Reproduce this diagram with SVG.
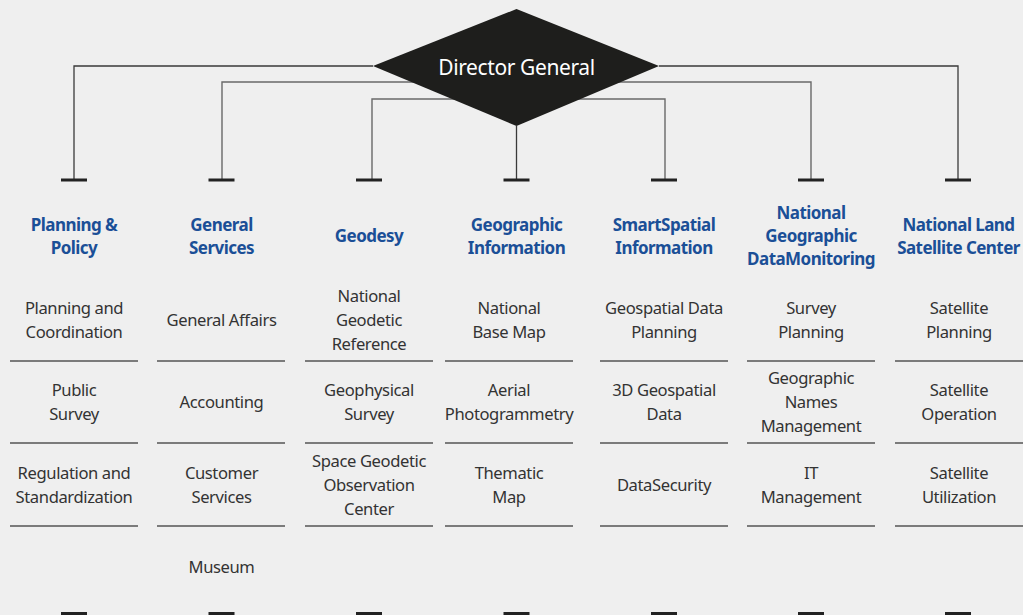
<svg xmlns="http://www.w3.org/2000/svg" width="1023" height="615" viewBox="0 0 1023 615">
<style>
.bg{fill:#efefef}
.hd{font-family:"Noto Sans","Liberation Sans",sans-serif;font-weight:bold;font-size:17px;fill:#1b4f97;text-anchor:middle;letter-spacing:-0.55px}
.tx{font-family:"Noto Sans","Liberation Sans",sans-serif;font-size:16.6px;fill:#333;text-anchor:middle;letter-spacing:-0.4px}
.dg{font-family:"Noto Sans","Liberation Sans",sans-serif;font-size:21px;fill:#fff;text-anchor:middle;letter-spacing:-0.4px}
.c1{fill:none;stroke:#3a3a3a;stroke-width:1.3}
.c2{fill:none;stroke:#6a6a6a;stroke-width:1.4}
.bar{fill:#222}
.sep{stroke:#555;stroke-width:1.5}
</style>
<rect class="bg" x="0" y="0" width="1023" height="615"/>
<g id="connectors">
<path class="c1" d="M373 66 H74 V180"/>
<path class="c1" d="M659 66 H958 V180"/>
<path class="c2" d="M420 82 H222 V180"/>
<path class="c2" d="M612 82 H811 V180"/>
<path class="c2" d="M460 99 H372 V180"/>
<path class="c2" d="M573 99 H665 V180"/>
<path class="c1" d="M516.5 126 V180"/>
<rect class="bar" x="61" y="178.5" width="26" height="3"/>
<rect class="bar" x="208.5" y="178.5" width="26" height="3"/>
<rect class="bar" x="356" y="178.5" width="26" height="3"/>
<rect class="bar" x="503.5" y="178.5" width="26" height="3"/>
<rect class="bar" x="651" y="178.5" width="26" height="3"/>
<rect class="bar" x="798" y="178.5" width="26" height="3"/>
<rect class="bar" x="945" y="178.5" width="26" height="3"/>
<rect class="bar" x="61" y="612" width="26" height="3"/>
<rect class="bar" x="208.5" y="612" width="26" height="3"/>
<rect class="bar" x="356" y="612" width="26" height="3"/>
<rect class="bar" x="503.5" y="612" width="26" height="3"/>
<rect class="bar" x="651" y="612" width="26" height="3"/>
<rect class="bar" x="798" y="612" width="26" height="3"/>
<rect class="bar" x="945" y="612" width="26" height="3"/>
</g>
<g id="director">
<polygon points="516.5,9 659,66 516.5,126 373,66" fill="#1e1e1c"/>
<text class="dg" x="516.5" y="74.5">Director General</text>
</g>
<g id="planning">
<text class="hd" x="74" y="230.5"><tspan x="74">Planning &amp;</tspan><tspan x="74" dy="23">Policy</tspan></text>
<text class="tx" x="74" y="314"><tspan x="74">Planning and</tspan><tspan x="74" dy="24">Coordination</tspan></text>
<line class="sep" x1="10" y1="361" x2="138" y2="361"/>
<text class="tx" x="74" y="396"><tspan x="74">Public</tspan><tspan x="74" dy="24">Survey</tspan></text>
<line class="sep" x1="10" y1="443" x2="138" y2="443"/>
<text class="tx" x="74" y="479"><tspan x="74">Regulation and</tspan><tspan x="74" dy="24">Standardization</tspan></text>
<line class="sep" x1="10" y1="526" x2="138" y2="526"/>
</g>
<g id="general">
<text class="hd" x="221.5" y="230.5"><tspan x="221.5">General</tspan><tspan x="221.5" dy="23">Services</tspan></text>
<text class="tx" x="221.5" y="326">General Affairs</text>
<line class="sep" x1="157" y1="361" x2="285" y2="361"/>
<text class="tx" x="221.5" y="408">Accounting</text>
<line class="sep" x1="157" y1="443" x2="285" y2="443"/>
<text class="tx" x="221.5" y="479"><tspan x="221.5">Customer</tspan><tspan x="221.5" dy="24">Services</tspan></text>
<line class="sep" x1="157" y1="526" x2="285" y2="526"/>
<text class="tx" x="221.5" y="573">Museum</text>
</g>
<g id="geodesy">
<text class="hd" x="369" y="242">Geodesy</text>
<text class="tx" x="369" y="302"><tspan x="369">National</tspan><tspan x="369" dy="24">Geodetic</tspan><tspan x="369" dy="24">Reference</tspan></text>
<line class="sep" x1="305" y1="361" x2="433" y2="361"/>
<text class="tx" x="369" y="396"><tspan x="369">Geophysical</tspan><tspan x="369" dy="24">Survey</tspan></text>
<line class="sep" x1="305" y1="443" x2="433" y2="443"/>
<text class="tx" x="369" y="467"><tspan x="369">Space Geodetic</tspan><tspan x="369" dy="24">Observation</tspan><tspan x="369" dy="24">Center</tspan></text>
<line class="sep" x1="305" y1="526" x2="433" y2="526"/>
</g>
<g id="geographic">
<text class="hd" x="516.5" y="230.5"><tspan x="516.5">Geographic</tspan><tspan x="516.5" dy="23">Information</tspan></text>
<text class="tx" x="509" y="314"><tspan x="509">National</tspan><tspan x="509" dy="24">Base Map</tspan></text>
<line class="sep" x1="445" y1="361" x2="573" y2="361"/>
<text class="tx" x="509" y="396"><tspan x="509">Aerial</tspan><tspan x="509" dy="24">Photogrammetry</tspan></text>
<line class="sep" x1="445" y1="443" x2="573" y2="443"/>
<text class="tx" x="509" y="479"><tspan x="509">Thematic</tspan><tspan x="509" dy="24">Map</tspan></text>
<line class="sep" x1="445" y1="526" x2="573" y2="526"/>
</g>
<g id="smartspatial">
<text class="hd" x="664" y="230.5"><tspan x="664">SmartSpatial</tspan><tspan x="664" dy="23">Information</tspan></text>
<text class="tx" x="664" y="314"><tspan x="664">Geospatial Data</tspan><tspan x="664" dy="24">Planning</tspan></text>
<line class="sep" x1="600" y1="361" x2="728" y2="361"/>
<text class="tx" x="664" y="396"><tspan x="664">3D Geospatial</tspan><tspan x="664" dy="24">Data</tspan></text>
<line class="sep" x1="600" y1="443" x2="728" y2="443"/>
<text class="tx" x="664" y="491">DataSecurity</text>
<line class="sep" x1="600" y1="526" x2="728" y2="526"/>
</g>
<g id="monitoring">
<text class="hd" x="811" y="218.5"><tspan x="811">National</tspan><tspan x="811" dy="23">Geographic</tspan><tspan x="811" dy="23">DataMonitoring</tspan></text>
<text class="tx" x="811" y="314"><tspan x="811">Survey</tspan><tspan x="811" dy="24">Planning</tspan></text>
<line class="sep" x1="747" y1="361" x2="875" y2="361"/>
<text class="tx" x="811" y="384"><tspan x="811">Geographic</tspan><tspan x="811" dy="24">Names</tspan><tspan x="811" dy="24">Management</tspan></text>
<line class="sep" x1="747" y1="443" x2="875" y2="443"/>
<text class="tx" x="811" y="479"><tspan x="811">IT</tspan><tspan x="811" dy="24">Management</tspan></text>
<line class="sep" x1="747" y1="526" x2="875" y2="526"/>
</g>
<g id="satellite">
<text class="hd" x="958.5" y="230.5"><tspan x="958.5">National Land</tspan><tspan x="958.5" dy="23">Satellite Center</tspan></text>
<text class="tx" x="959" y="314"><tspan x="959">Satellite</tspan><tspan x="959" dy="24">Planning</tspan></text>
<line class="sep" x1="895" y1="361" x2="1023" y2="361"/>
<text class="tx" x="959" y="396"><tspan x="959">Satellite</tspan><tspan x="959" dy="24">Operation</tspan></text>
<line class="sep" x1="895" y1="443" x2="1023" y2="443"/>
<text class="tx" x="959" y="479"><tspan x="959">Satellite</tspan><tspan x="959" dy="24">Utilization</tspan></text>
<line class="sep" x1="895" y1="526" x2="1023" y2="526"/>
</g>
</svg>
